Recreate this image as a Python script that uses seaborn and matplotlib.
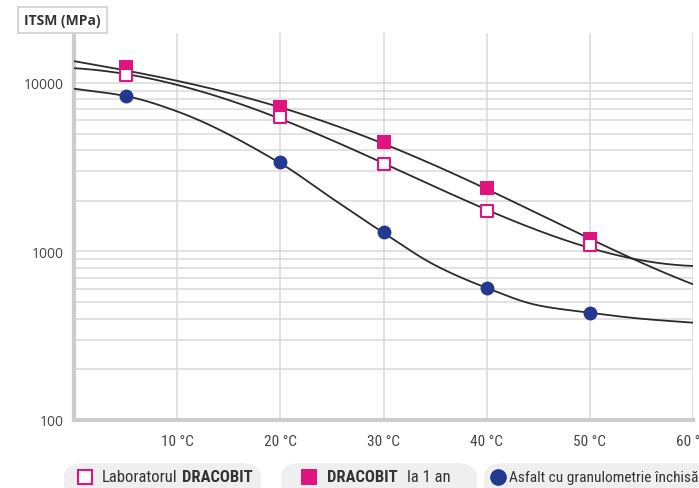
import numpy as np
import pandas as pd
import matplotlib
matplotlib.use('Agg')
import matplotlib.pyplot as plt
from matplotlib import font_manager
from matplotlib.patches import FancyBboxPatch
from matplotlib.lines import Line2D
import seaborn as sns

# measured points (temperature in degC, ITSM in MPa)
temps = [5, 20, 30, 40, 50]
lab_dracobit = [11160, 6280, 3300, 1750, 1087]
dracobit_1an = [12450, 7200, 4450, 2370, 1180]
asfalt = [8370, 3390, 1300, 611, 434]

# trend curves
curve_temps = [0, 5, 10, 20, 25, 30, 35, 40, 45, 50, 55, 60]
curve_lab = [12400, 11160, 9560, 6195, 4820, 3300, 2320, 1746, 1340, 1080, 884, 815]
curve_1an = [13460, 11950, 10230, 7100, 5780, 4390, 3190, 2370, 1645, 1206, 860, 637]
curve_asfalt = [9250, 8370, 6780, 3340, 2068, 1291, 829, 608, 479, 433, 399, 378]

xticks = [10, 20, 30, 40, 50, 60]
yticks = [100, 1000, 10000]

PINK = '#e0137f'
BLUE = '#22398f'

# pick a narrow face if one is installed
installed = {f.name for f in font_manager.fontManager.ttflist}
narrow = [n for n in ['Liberation Sans Narrow', 'Roboto Condensed', 'Open Sans Condensed',
                      'Noto Sans Condensed', 'DejaVu Sans Condensed', 'Roboto'] if n in installed]
NARROW = (narrow[:1] or ['DejaVu Sans']) + ['DejaVu Sans']


def pchip(x, y, xn):
    # monotone cubic hermite
    x = np.asarray(x, float)
    y = np.asarray(y, float)
    h = np.diff(x)
    d = np.diff(y) / h
    m = np.zeros_like(y)
    for k in range(1, len(x) - 1):
        if d[k - 1] * d[k] > 0:
            w1 = 2 * h[k] + h[k - 1]
            w2 = h[k] + 2 * h[k - 1]
            m[k] = (w1 + w2) / (w1 / d[k - 1] + w2 / d[k])
    m[0] = d[0]
    m[-1] = d[-1]
    idx = np.clip(np.searchsorted(x, xn) - 1, 0, len(x) - 2)
    t = (xn - x[idx]) / h[idx]
    h00 = 2 * t**3 - 3 * t**2 + 1
    h10 = t**3 - 2 * t**2 + t
    h01 = -2 * t**3 + 3 * t**2
    h11 = t**3 - t**2
    return h00 * y[idx] + h10 * h[idx] * m[idx] + h01 * y[idx + 1] + h11 * h[idx] * m[idx + 1]


sns.set_style('white')
plt.rcParams['font.family'] = ['Open Sans', 'DejaVu Sans']

fig = plt.figure(figsize=(6.99, 4.89), dpi=100)
ax = fig.add_axes([74 / 699, 1 - 421 / 489, (693 - 74) / 699, (421 - 34) / 489])

# smooth trend lines in log space: polynomial fit for the pink ones, monotone spline for asphalt
t_fine = np.linspace(0, 60, 400)
for vals in [curve_lab, curve_1an]:
    coef = np.polyfit(curve_temps, np.log10(vals), 4)
    smooth = pd.DataFrame({'t': t_fine, 'v': 10 ** np.polyval(coef, t_fine)})
    sns.lineplot(data=smooth, x='t', y='v', ax=ax, color='#2b2b2b', lw=1.3, zorder=3)
smooth = pd.DataFrame({'t': t_fine, 'v': 10 ** pchip(curve_temps, np.log10(curve_asfalt), t_fine)})
sns.lineplot(data=smooth, x='t', y='v', ax=ax, color='#2b2b2b', lw=1.3, zorder=3)

pts = pd.DataFrame({'t': temps, 'lab': lab_dracobit, 'an': dracobit_1an, 'asf': asfalt})
sns.scatterplot(data=pts, x='t', y='an', ax=ax, marker='s', s=95, color=PINK,
                edgecolor=PINK, linewidth=0, zorder=4)
sns.scatterplot(data=pts, x='t', y='lab', ax=ax, marker='s', s=80, color='white',
                edgecolor=PINK, linewidth=1.5, zorder=5)
sns.scatterplot(data=pts, x='t', y='asf', ax=ax, marker='o', s=100, color=BLUE,
                edgecolor=BLUE, linewidth=0, zorder=4)

ax.set_yscale('log')
ax.set_xlim(0, 60)
ax.set_ylim(100, 19800)
ax.set_xticks(xticks)
ax.set_xticklabels([f'{t} °C' for t in xticks], family=NARROW, fontsize=11,
                   color='#444444', fontstretch='condensed')
ax.set_yticks(yticks)
ax.set_yticklabels([str(v) for v in yticks], fontsize=10, color='#444444')
ax.yaxis.set_minor_formatter(plt.NullFormatter())
ax.tick_params(axis='x', length=0, pad=10)
ax.tick_params(axis='y', which='major', length=5, width=1.5, color='#cccccc', pad=2)
ax.tick_params(axis='y', which='minor', length=0)
ax.grid(True, axis='x', color='#e2e2e2', lw=1.4, zorder=0)
ax.grid(True, axis='y', which='both', color='#dadada', lw=1.1, zorder=0)
for s in ['top', 'right']:
    ax.spines[s].set_visible(False)
for s in ['left', 'bottom']:
    ax.spines[s].set_color('#cccccc')
    ax.spines[s].set_linewidth(3)
ax.set_xlabel('')
ax.set_ylabel('')

# y axis title box
fig.text(24 / 699, 1 - 21 / 489, 'ITSM (MPa)', fontsize=10, fontweight='bold',
         color='#333333', va='center', ha='left',
         bbox=dict(boxstyle='square,pad=0.45', fc='white', ec='#cfcfcf', lw=1.2))

# legend pills
W, H = 699, 489
pills = [(64, 261), (281, 477), (484, 720)]
for x0, x1 in pills:
    fig.patches.append(FancyBboxPatch((x0 / W, 1 - 498 / H), (x1 - x0) / W, 34 / H,
                                      boxstyle='round,pad=0,rounding_size=0.03',
                                      transform=fig.transFigure, fc='#efefef', ec='none'))

ly = 1 - 478 / H
fig.add_artist(Line2D([85 / W], [ly], marker='s', ms=10.5, mfc='white', mec=PINK, mew=1.5,
                      transform=fig.transFigure))
fig.add_artist(Line2D([309 / W], [ly], marker='s', ms=11, mfc=PINK, mec=PINK, mew=0,
                      transform=fig.transFigure))
fig.add_artist(Line2D([498 / W], [ly], marker='o', ms=12, mfc=BLUE, mec=BLUE, mew=0,
                      transform=fig.transFigure))

# legend labels: (start x, text, weight, font size), each pill chained left to right
legend_parts = [
    (102, [('Laboratorul', 'normal', 12, 4), ('DRACOBIT', 'bold', 12, 0)]),
    (327, [('DRACOBIT', 'bold', 12, 9), ('la 1 an', 'normal', 12, 0)]),
    (509, [('Asfalt cu granulometrie închisă', 'normal', 12, 0)]),
]
renderer = fig.canvas.get_renderer()
for x, parts in legend_parts:
    for txt, wt, fs, gap in parts:
        t = fig.text(x / W, ly, txt, family=NARROW, fontsize=fs, fontweight=wt,
                     fontstretch='condensed', color='#333333', va='center', ha='left')
        w = t.get_window_extent(renderer).width
        if x + w > W - 1:
            t.set_fontsize(fs * (W - 1 - x) / w)
        x = x + t.get_window_extent(renderer).width + gap

fig.savefig('out.png', dpi=100)
